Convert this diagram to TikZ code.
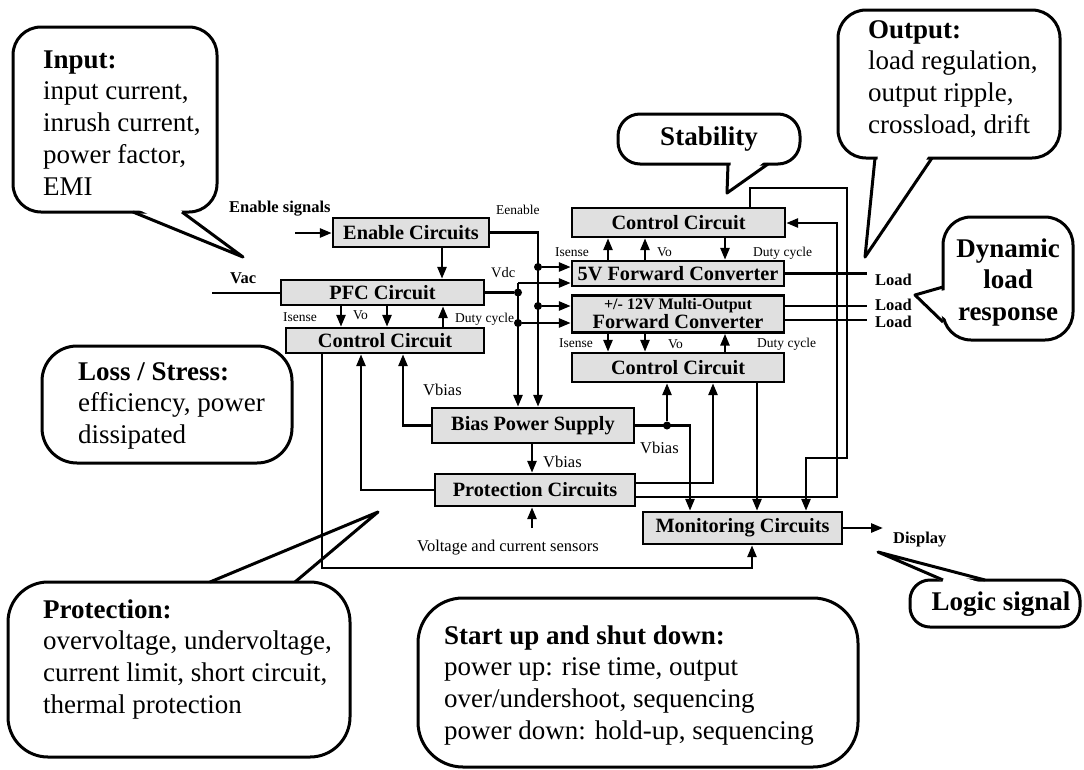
\documentclass[tikz,border=0pt]{standalone}
\usepackage{fontspec}
\setmainfont{Liberation Serif}
\usetikzlibrary{arrows.meta,calc}

\tikzset{
  wire/.style={line width=2.6pt},
  arr/.style={wire, -{Triangle[length=12pt,width=9pt]}},
  blk/.style={draw, fill=black!12, line width=2.4pt, inner sep=0pt,
    font=\bfseries\fontsize{20.3}{21}\selectfont},
  dot/.style={circle, fill, inner sep=0pt, minimum size=8pt},
  lab/.style={inner sep=0pt, font=\fontsize{13.5}{15}\selectfont},
  labm/.style={inner sep=0pt, font=\fontsize{16.5}{18}\selectfont},
  labb/.style={inner sep=0pt, font=\bfseries\fontsize{16.5}{18}\selectfont},
  bubble/.style={draw, fill=white, line width=3pt, rounded corners=28pt},
  tipline/.style={line width=3pt, line join=round},
  btext/.style={inner sep=0pt, anchor=base west, font=\fontsize{27}{31.8}\selectfont},
}

\begin{document}
\begin{tikzpicture}[x=1pt,y=-1pt]
\useasboundingbox (0,0) rectangle (1084,769);

% ---------- callouts ----------
% Input
\draw[bubble] (13,27) rectangle (217,212);
\fill[white] (137,209) -- (243,257) -- (179,209) -- cycle;
\draw[tipline] (133,212) -- (243,257) -- (182,212);
\node[btext] (tIn) at (43,68) {\begin{tabular}[t]{@{}l@{}}\textbf{Input:}\\input current,\\inrush current,\\power factor,\\EMI\end{tabular}};

% Stability
\draw[bubble, rounded corners=22pt] (618,114) rectangle (800,164);
\fill[white] (731,161) -- (727,193) -- (765,161) -- cycle;
\draw[tipline] (728,164) -- (727,193) -- (768,164);
\node[inner sep=0pt, font=\bfseries\fontsize{27}{30}\selectfont] (tStab) at (709,139) {Stability};

% Output
\draw[bubble] (838,10) rectangle (1060,158);
\fill[white] (878,155) -- (865,257) -- (929,155) -- cycle;
\draw[tipline] (875,158) -- (865,257) -- (932,158);
\node[btext] (tOut) at (868,38) {\begin{tabular}[t]{@{}l@{}}\textbf{Output:}\\load regulation,\\output ripple,\\crossload, drift\end{tabular}};

% Dynamic load response
\draw[bubble] (943,217) rectangle (1073,340);
\fill[white] (946,290) -- (915,295) -- (946,319) -- cycle;
\draw[tipline] (943,287) -- (915,295) -- (943,322);
\node[btext, anchor=base] (tDyn) at (1008,257) {\bfseries\begin{tabular}[t]{@{}c@{}}Dynamic\\load\\response\end{tabular}};

% Loss / Stress
\draw[bubble, rounded corners=35pt] (42,346) rectangle (292,463);
\node[btext] (tLoss) at (78,380) {\begin{tabular}[t]{@{}l@{}}\textbf{Loss / Stress:}\\efficiency, power\\dissipated\end{tabular}};

% Protection
\draw[bubble, rounded corners=40pt] (8,582) rectangle (350,757);
\fill[white] (214,579) -- (378,512) -- (292,579) -- cycle;
\draw[tipline] (210,582) -- (378,512) -- (295,582);
\node[btext] (tProt) at (43,618) {\begin{tabular}[t]{@{}l@{}}\textbf{Protection:}\\overvoltage, undervoltage,\\current limit, short circuit,\\thermal protection\end{tabular}};

% Start up and shut down
\draw[bubble, rounded corners=45pt] (418,598) rectangle (858,767);
\node[btext] (tStart) at (444,644) {\begin{tabular}[t]{@{}l@{}}\textbf{Start up and shut down:}\\power up: rise time, output\\over/undershoot, sequencing\\power down: hold-up, sequencing\end{tabular}};

% Logic signal
\draw[bubble, rounded corners=20pt] (910,580) rectangle (1080,627);
\fill[white] (946,583) -- (878,552) -- (982,583) -- cycle;
\draw[tipline] (943,580) -- (878,552) -- (985,580);
\node[inner sep=0pt, anchor=base, font=\bfseries\fontsize{27}{30}\selectfont] (tLogic) at (1001,610) {Logic signal};

% ---------- blocks ----------
\node[blk, minimum width=156pt, minimum height=29pt] (en) at (411,232.5) {Enable Circuits};
\node[blk, minimum width=203pt, minimum height=25pt] (pfc) at (382.5,292.5) {PFC Circuit};
\node[blk, minimum width=198pt, minimum height=25pt] (ctlL) at (385,340.5) {Control Circuit};
\node[blk, minimum width=213pt, minimum height=29pt] (ctlU) at (678.5,222.5) {Control Circuit};
\node[blk, minimum width=212pt, minimum height=25pt] (fv) at (678,273.5) {5V Forward Converter};
\node[blk, minimum width=212pt, minimum height=37pt, align=center,
  font=\bfseries\fontsize{20.3}{15}\selectfont] (tw) at (678,314)
  {{\fontsize{16}{15}\selectfont +/- 12V Multi-Output}\\[0.5pt]Forward Converter};
\node[blk, minimum width=212pt, minimum height=29pt] (ctlR) at (678,367.5) {Control Circuit};
\node[blk, minimum width=202pt, minimum height=35pt] (bias) at (533,425.5) {Bias Power Supply};
\node[blk, minimum width=200pt, minimum height=32pt] (prot) at (535,490) {Protection Circuits};
\node[blk, minimum width=199pt, minimum height=32pt] (mon) at (742.5,528) {Monitoring Circuits};

% ---------- input side ----------
\coordinate (ensig) at (295,233);
\draw[arr] (ensig) -- (ensig -| en.west);
\draw[arr] (442,0 |- en.south) -- (442,0 |- pfc.north);
\coordinate (vac) at (212,293);
\draw[wire] (vac) -- (vac -| pfc.west);
\draw[arr] (341,0 |- pfc.south) -- (341,0 |- ctlL.north);
\draw[arr] (387,0 |- pfc.south) -- (387,0 |- ctlL.north);
\draw[arr] (443,0 |- ctlL.north) -- (443,0 |- pfc.south);

% enable bus
\draw[arr] (en.east) -| (538,0 |- bias.north);
\node[dot] (je1) at (538,267) {};
\node[dot] (je2) at (538,306) {};
\draw[arr] (je1) -- (je1 -| fv.west);
\draw[arr] (je2) -- (je2 -| tw.west);

% Vdc bus
\node[dot] (jv) at (518,0 |- pfc.east) {};
\draw[wire] (pfc.east) -- (jv);
\coordinate (vtop) at (518,283);
\draw[arr] (vtop) -- (vtop -| fv.west);
\draw[arr] (vtop) -- (518,0 |- bias.north);
\node[dot] (jd) at (518,323) {};
\draw[arr] (jd) -- (jd -| tw.west);

% converter feedback
\draw[arr] (608,0 |- fv.north) -- (608,0 |- ctlU.south);
\draw[arr] (645,0 |- fv.north) -- (645,0 |- ctlU.south);
\draw[arr] (725,0 |- ctlU.south) -- (725,0 |- fv.north);
\draw[arr] (608,0 |- tw.south) -- (608,0 |- ctlR.north);
\draw[arr] (645,0 |- tw.south) -- (645,0 |- ctlR.north);
\draw[arr] (725,0 |- ctlR.north) -- (725,0 |- tw.south);

% outputs
\node[labb, anchor=west, inner xsep=8pt] (ld1) at (867,280) {Load};
\node[labb, anchor=west, inner xsep=8pt] (ld2) at (867,305) {Load};
\node[labb, anchor=west, inner xsep=8pt] (ld3) at (867,322) {Load};
\draw[wire] (fv.east) -- (fv.east -| ld1.west);
\draw[wire] (tw.east |- 0,306) -- (ld2.west |- 0,306);
\draw[wire] (tw.east |- 0,320) -- (ld3.west |- 0,320);

% supervision paths
\draw[arr] (750,0 |- ctlU.north) -- (750,188) -| (847,458) -| (806,0 |- mon.north);
\draw[arr] (prot.east |- 0,497) -| (837,223) -- (ctlU.east |- 0,223);
\draw[arr] (prot.east |- 0,483) -| (713,0 |- ctlR.south);
\node[dot] (jb) at (667,0 |- bias.east) {};
\draw[arr] (bias.east) -| (690,0 |- mon.north);
\draw[arr] (jb) -- (jb |- ctlR.south);
\draw[arr] (757,0 |- ctlR.south) -- (757,0 |- mon.north);
\coordinate (disp) at (883,528);
\draw[arr] (mon.east) -- (mon.east -| disp);
\draw[arr] (322,0 |- ctlL.south) |- (752,568) -- (752,0 |- mon.south);
\draw[arr] (prot.west) -| (361,0 |- ctlL.south);
\draw[arr] (bias.west) -| (403,0 |- ctlL.south);
\draw[arr] (532,0 |- bias.south) -- (532,0 |- prot.north);
\coordinate (sens) at (532,528);
\draw[arr] (sens) -- (sens |- prot.south);

% ---------- signal labels ----------
\node[labb, anchor=base west] (tEnSig) at (229,212) {Enable signals};
\node[lab, anchor=base west] (tEen) at (496,214) {Eenable};
\node[labb, anchor=base west] (tVac) at (230,283) {Vac};
\node[lab, anchor=base west, font=\fontsize{14.5}{16}\selectfont] (tVdc) at (491,277) {Vdc};
\node[lab, anchor=base west] (tIs1) at (283,321) {Isense};
\node[lab, anchor=base west] (tVo1) at (353,319) {Vo};
\node[lab, anchor=base west] (tDc1) at (455,322) {Duty cycle};
\node[lab, anchor=base west] (tIs2) at (555,256) {Isense};
\node[lab, anchor=base west] (tVo2) at (657,256) {Vo};
\node[lab, anchor=base west] (tDc2) at (753,256) {Duty cycle};
\node[lab, anchor=base west] (tIs3) at (559,347) {Isense};
\node[lab, anchor=base west] (tVo3) at (668,348) {Vo};
\node[lab, anchor=base west] (tDc3) at (757,347) {Duty cycle};
\node[labm, anchor=base west] (tVb1) at (423,395) {Vbias};
\node[labm, anchor=base west] (tVb2) at (543,467) {Vbias};
\node[labm, anchor=base west] (tVb3) at (640,453) {Vbias};
\node[labm] (tSens) at (508,548) {Voltage and current sensors};
\node[labb, anchor=base west] (tDisp) at (893,543) {Display};

\end{tikzpicture}
\end{document}
